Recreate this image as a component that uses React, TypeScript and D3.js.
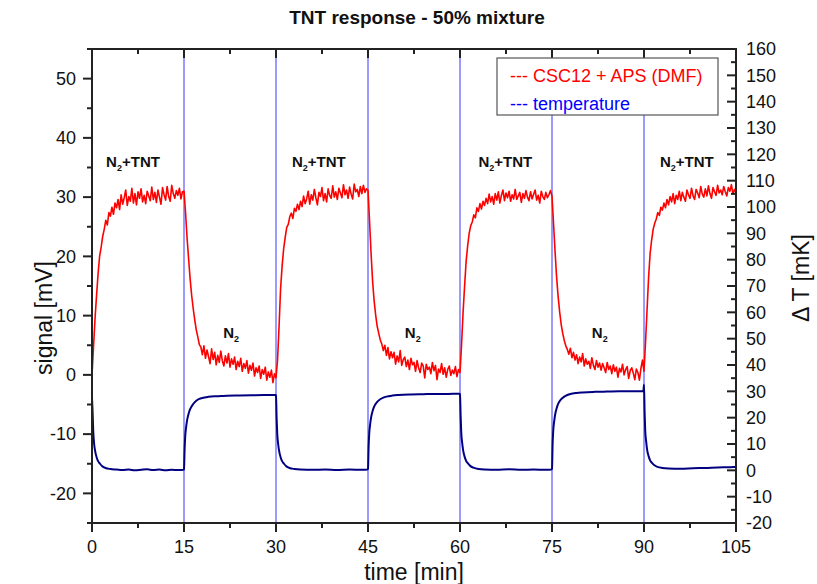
import React from "react";
import * as d3 from "d3";

const W = 817;
const H = 584;
const PLOT = { left: 92, right: 736, top: 49, bottom: 523 };

const xTicks = [0, 15, 30, 45, 60, 75, 90, 105];
const signalTicks = [-20, -10, 0, 10, 20, 30, 40, 50];
const tempTicks = [-20, -10, 0, 10, 20, 30, 40, 50, 60, 70, 80, 90, 100, 110, 120, 130, 140, 150, 160];
const switchTimes = [15, 30, 45, 60, 75, 90];

// signal [mV], sampled every 0.25 min starting at 0
const SIGNAL_STEP = 0.25;
const signalA = [0.0, 4.8, 9.6, 13.5, 17.2, 20.1, 21.6, 23.4, 24.6, 26.1, 25.3, 27.4, 26.8, 28.3, 27.1, 29.0,
  28.2, 29.6, 27.9, 30.4, 28.8, 29.9, 31.2, 28.6, 30.1, 29.3, 31.5, 29.0, 30.6, 28.7, 30.9, 29.8,
  31.4, 29.2, 30.3, 28.9, 31.0, 30.2, 29.4, 31.7, 29.6, 30.8, 29.1, 31.2, 30.0, 28.8, 31.6, 30.4,
  29.5, 31.8, 30.1, 29.3, 32.0, 30.6, 29.8, 31.1, 30.3, 31.5, 29.7, 30.9];
const signalB = [31.0, 27.4, 23.1, 19.6, 16.2, 13.4, 11.2, 9.3, 7.6, 6.4, 5.1, 4.7, 3.4, 4.9, 2.8, 4.2,
  3.1, 1.9, 4.4, 2.6, 3.8, 1.7, 3.3, 2.1, 4.0, 2.4, 1.5, 3.2, 2.0, 3.6, 1.3, 2.7,
  1.8, 3.0, 0.9, 2.3, 1.4, 2.8, 0.6, 1.9, 1.1, 2.4, 0.3, 1.6, 0.8, 2.0, -0.2, 1.2,
  0.4, 1.5, -0.6, 0.9, 0.1, 1.3, -0.9, 0.5, -0.4, 0.8, -1.3, 0.2];
const signalC = [-0.5, 2.5, 8.2, 14.6, 18.4, 21.3, 23.2, 24.9, 25.4, 26.7, 27.3, 26.4, 28.1, 27.6, 28.8, 27.9,
  29.3, 28.4, 30.2, 28.9, 29.7, 31.0, 28.8, 30.4, 29.5, 31.3, 29.9, 28.7, 30.8, 30.1, 31.6, 29.4,
  30.6, 29.2, 31.4, 30.3, 29.8, 31.9, 30.0, 30.9, 29.6, 31.5, 30.7, 29.9, 32.1, 30.4, 31.2, 29.8,
  31.7, 30.5, 29.7, 32.2, 30.9, 31.3, 30.1, 31.8, 30.6, 32.0, 30.8, 31.4];
const signalD = [31.2, 26.0, 20.5, 15.8, 12.5, 10.1, 8.2, 7.0, 5.9, 5.2, 4.1, 5.0, 3.3, 4.6, 2.7, 3.9,
  2.9, 3.8, 1.8, 3.2, 2.2, 4.1, 1.6, 2.6, 3.0, 1.4, 2.5, 0.9, 2.8, 1.7, 2.1, 0.6,
  2.4, 1.2, 0.4, 2.0, 1.5, -0.5, 1.8, 0.9, 1.3, 0.2, 2.1, 0.7, 1.6, -0.8, 1.0, 0.4,
  1.9, 0.1, 1.2, -0.4, 0.9, 1.5, -0.1, 0.8, 0.2, 1.4, -0.3, 0.9];
const signalE = [0.4, 5.0, 10.5, 15.0, 19.2, 21.8, 23.9, 25.2, 25.8, 27.0, 26.5, 28.2, 27.6, 28.9, 28.0, 29.3,
  28.6, 29.8, 28.9, 30.5, 29.2, 30.1, 28.8, 30.6, 29.5, 30.9, 29.0, 30.3, 31.2, 29.4, 30.7, 29.9,
  31.0, 29.3, 30.4, 29.7, 31.3, 29.6, 30.2, 30.8, 29.1, 30.6, 29.8, 31.1, 30.0, 29.4, 30.9, 29.7,
  30.5, 31.2, 29.5, 30.3, 29.0, 31.0, 30.1, 29.6, 30.8, 29.9, 30.4, 31.1];
const signalF = [30.2, 25.5, 20.8, 16.5, 13.2, 10.6, 8.5, 7.0, 5.8, 4.9, 4.3, 3.5, 4.5, 2.9, 3.8, 2.5,
  3.4, 1.9, 3.0, 2.2, 3.6, 1.5, 2.7, 1.8, 2.3, 1.1, 2.9, 1.6, 0.9, 2.4, 1.3, 2.0,
  0.8, 1.9, 1.2, 0.4, 2.1, 0.9, 1.5, 0.2, 1.7, 0.6, 1.3, -0.4, 1.1, 0.5, 1.8, 0.0,
  0.9, 1.4, -0.6, 0.7, 1.2, 0.3, -0.8, 1.0, 0.4, -0.9, 1.1, 2.5];
const signalG = [0.6, 5.5, 11.0, 16.5, 20.5, 22.8, 24.6, 25.6, 26.3, 27.4, 26.9, 28.3, 27.8, 29.0, 28.2, 29.6,
  28.7, 30.1, 29.2, 30.6, 28.9, 30.3, 29.6, 31.0, 29.4, 30.8, 30.0, 29.3, 31.2, 30.4, 29.8, 31.5,
  30.2, 29.6, 31.3, 30.7, 29.9, 31.8, 30.5, 30.0, 31.4, 30.2, 31.9, 30.6, 29.8, 31.6, 30.9, 30.3,
  32.0, 30.7, 31.2, 30.4, 31.8, 30.9, 30.2, 31.6, 31.0, 32.1, 30.5, 31.3, 30.8];
const signalValues = [...signalA, ...signalB, ...signalC, ...signalD, ...signalE, ...signalF, ...signalG];

// temperature ΔT [mK]
const tempTime = [
  0, 0.1, 0.2, 0.35, 0.5, 0.75, 1.0, 1.3, 1.7, 2.2, 3, 4, 5, 6, 7, 8, 9, 10, 11, 12, 13, 14, 14.9,
  15.0, 15.1, 15.2, 15.35, 15.5, 15.75, 16, 16.5, 17, 17.5, 18, 19, 20, 21, 22, 24, 26, 28, 29.9,
  30, 30.1, 30.2, 30.35, 30.5, 30.75, 31, 31.3, 31.7, 32.2, 33, 34, 36, 38, 40, 42, 44, 44.9,
  45, 45.1, 45.2, 45.35, 45.5, 45.75, 46, 46.5, 47, 47.5, 48, 49, 50, 52, 54, 56, 58, 59.9,
  60, 60.1, 60.2, 60.35, 60.5, 60.75, 61, 61.3, 61.7, 62.2, 63, 64, 66, 68, 70, 72, 74, 74.9,
  75, 75.1, 75.2, 75.35, 75.5, 75.75, 76, 76.5, 77, 77.5, 78, 79, 80, 82, 84, 86, 88, 89.9,
  90, 90.1, 90.2, 90.35, 90.5, 90.75, 91, 91.3, 91.7, 92.2, 93, 94, 96, 98, 100, 102, 104, 105];
const tempValue = [
  27.5, 22, 15, 10, 7.5, 5, 3.5, 2.5, 1.5, 0.9, 0.5, 0.3, 0.1, 0.3, 0.0, 0.2, 0.4, 0.1, 0.3, 0.0, 0.2, 0.1, 0.2,
  0.5, 8, 13, 16.5, 19, 21.5, 23.2, 25.2, 26.4, 27.1, 27.5, 27.9, 28.1, 28.2, 28.3, 28.4, 28.5, 28.6, 28.6,
  28.5, 20, 14, 10, 7.5, 5, 3.5, 2.5, 1.5, 0.9, 0.5, 0.3, 0.2, 0.3, 0.1, 0.3, 0.2, 0.3,
  0.6, 9, 14, 17.5, 20, 22.5, 24.2, 26, 27, 27.6, 28, 28.4, 28.6, 28.8, 28.9, 29.0, 29.0, 29.1,
  29.0, 21, 14.5, 10.5, 7.8, 5.2, 3.6, 2.6, 1.6, 1.0, 0.5, 0.3, 0.2, 0.4, 0.2, 0.3, 0.2, 0.3,
  0.6, 10, 15, 18.5, 21, 23.5, 25.2, 27, 28, 28.6, 29, 29.4, 29.6, 29.8, 29.9, 30.0, 30.0, 30.1,
  32.5, 22, 15, 11, 8, 5.4, 3.8, 2.8, 1.9, 1.3, 0.9, 0.7, 0.6, 0.8, 0.9, 1.1, 1.2, 1.3];

const labelTNT = { t: [2.3, 32.6, 63.0, 92.6], v: 35.1 };
const labelN2 = { t: [21.4, 51.0, 81.5], v: 6.2 };

const FONT = "'Liberation Sans', Arial, sans-serif";
const AXIS = "#222";

export default function App() {
  const x = d3.scaleLinear().domain([0, 105]).range([PLOT.left, PLOT.right]);
  const yS = d3.scaleLinear().domain([-25, 55]).range([PLOT.bottom, PLOT.top]);
  const yT = d3.scaleLinear().domain([-20, 160]).range([PLOT.bottom, PLOT.top]);

  const sigLine = d3.line<number>().x((_, i) => x(i * SIGNAL_STEP)).y((d) => yS(d));
  const tempLine = d3.line<number>().x((_, i) => x(tempTime[i])).y((d) => yT(d)).curve(d3.curveMonotoneX);

  const xMinor = d3.range(7.5, 105, 15);
  const sMinor = d3.range(-25, 56, 5).filter((v) => v % 10 !== 0);
  const tMinor = d3.range(-15, 160, 10);

  return (
    <svg width={W} height={H} style={{ position: "absolute", left: 0, top: 0, background: "#fff" }} fontFamily={FONT}>
      <rect x={0} y={0} width={W} height={H} fill="#fff" />
      <text x={417} y={24} textAnchor="middle" fontSize={19} fontWeight="bold" fill="#111">
        TNT response - 50% mixture
      </text>

      {/* switching lines */}
      {switchTimes.map((t) => (
        <line key={t} x1={x(t)} x2={x(t)} y1={PLOT.top} y2={PLOT.bottom} stroke="#9a9aff" strokeWidth={2} />
      ))}

      <path d={sigLine(signalValues) || ""} fill="none" stroke="#ff0000" strokeWidth={1.6} strokeLinejoin="round" />
      <path d={tempLine(tempValue) || ""} fill="none" stroke="#000080" strokeWidth={2} />

      {/* annotations */}
      {labelTNT.t.map((t) => (
        <text key={"tnt" + t} x={x(t)} y={yS(labelTNT.v)} fontSize={15} fontWeight="bold" fill="#111">
          N<tspan fontSize={9} dy={4}>2</tspan>
          <tspan dy={-4}>+TNT</tspan>
        </text>
      ))}
      {labelN2.t.map((t) => (
        <text key={"n2" + t} x={x(t)} y={yS(labelN2.v)} fontSize={15} fontWeight="bold" fill="#111">
          N<tspan fontSize={9} dy={4}>2</tspan>
        </text>
      ))}

      {/* frame */}
      <rect x={PLOT.left} y={PLOT.top} width={PLOT.right - PLOT.left} height={PLOT.bottom - PLOT.top} fill="none" stroke={AXIS} strokeWidth={2} />

      {/* bottom axis (outward) + top (inward) */}
      {xTicks.map((t) => (
        <g key={"xt" + t}>
          <line x1={x(t)} x2={x(t)} y1={PLOT.bottom} y2={PLOT.bottom + 9} stroke={AXIS} strokeWidth={2} />
          <line x1={x(t)} x2={x(t)} y1={PLOT.top} y2={PLOT.top + 9} stroke={AXIS} strokeWidth={2} />
          <text x={x(t)} y={553} textAnchor="middle" fontSize={18} fill="#111">{t}</text>
        </g>
      ))}
      {xMinor.map((t) => (
        <g key={"xm" + t}>
          <line x1={x(t)} x2={x(t)} y1={PLOT.bottom} y2={PLOT.bottom + 5} stroke={AXIS} strokeWidth={2} />
          <line x1={x(t)} x2={x(t)} y1={PLOT.top} y2={PLOT.top + 5} stroke={AXIS} strokeWidth={2} />
        </g>
      ))}

      {/* left axis (outward) */}
      {signalTicks.map((v) => (
        <g key={"sy" + v}>
          <line x1={PLOT.left - 9} x2={PLOT.left} y1={yS(v)} y2={yS(v)} stroke={AXIS} strokeWidth={2} />
          <text x={76} y={yS(v)} dy="0.35em" textAnchor="end" fontSize={18} fill="#111">{v}</text>
        </g>
      ))}
      {sMinor.map((v) => (
        <line key={"sm" + v} x1={PLOT.left - 5} x2={PLOT.left} y1={yS(v)} y2={yS(v)} stroke={AXIS} strokeWidth={2} />
      ))}

      {/* right axis (inward) */}
      {tempTicks.map((v) => (
        <g key={"ty" + v}>
          <line x1={PLOT.right - 9} x2={PLOT.right} y1={yT(v)} y2={yT(v)} stroke={AXIS} strokeWidth={2} />
          <text x={746} y={yT(v)} dy="0.35em" textAnchor="start" fontSize={18} fill="#111">{v}</text>
        </g>
      ))}
      {tMinor.map((v) => (
        <line key={"tm" + v} x1={PLOT.right - 5} x2={PLOT.right} y1={yT(v)} y2={yT(v)} stroke={AXIS} strokeWidth={2} />
      ))}

      {/* axis titles */}
      <text x={414} y={580} textAnchor="middle" fontSize={23} fill="#111">time [min]</text>
      <text transform={`translate(44,318) rotate(-90)`} textAnchor="middle" dominantBaseline="central" fontSize={23} fill="#111">
        signal [mV]
      </text>
      <text transform={`translate(801,278) rotate(-90)`} textAnchor="middle" dominantBaseline="central" fontSize={23} fill="#111">
        Δ T [mK]
      </text>

      {/* legend */}
      <rect x={497} y={58} width={221} height={57} fill="#fff" stroke="#555" strokeWidth={1.2} />
      <text x={510} y={82} fontSize={18} fill="#ff0000">--- CSC12 + APS (DMF)</text>
      <text x={510} y={110} fontSize={18} fill="#0000ff">--- temperature</text>
    </svg>
  );
}
